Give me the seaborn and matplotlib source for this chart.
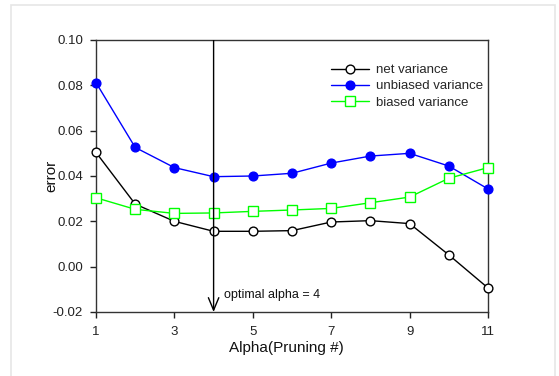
import numpy as np
import pandas as pd
import matplotlib
matplotlib.use("Agg")
import matplotlib.pyplot as plt
from matplotlib.patches import Rectangle, FancyArrowPatch
import seaborn as sns

# pruning steps and the three variance curves
alpha = [1, 2, 3, 4, 5, 6, 7, 8, 9, 10, 11]
net_variance = [0.0504, 0.0276, 0.0200, 0.0156, 0.0156, 0.0159, 0.0197, 0.0203, 0.0190, 0.0052, -0.0094]
unbiased_variance = [0.0812, 0.0526, 0.0437, 0.0397, 0.0400, 0.0412, 0.0457, 0.0488, 0.0500, 0.0444, 0.0343]
biased_variance = [0.0304, 0.0253, 0.0235, 0.0237, 0.0244, 0.0250, 0.0257, 0.0282, 0.0307, 0.0390, 0.0437]
x_ticks = [1, 3, 5, 7, 9, 11]
y_ticks = [-0.02, 0.00, 0.02, 0.04, 0.06, 0.08, 0.10]
optimal_alpha = 4

sns.set_style("ticks")
plt.rcParams["font.family"] = ["Liberation Sans", "DejaVu Sans"]
plt.rcParams["axes.unicode_minus"] = False

fig = plt.figure(figsize=(5.59, 3.76), dpi=100)
ax = fig.add_axes([96 / 559, 64 / 376, 392 / 559, 272 / 376])

df = pd.DataFrame({
    "alpha": alpha,
    "net variance": net_variance,
    "unbiased variance": unbiased_variance,
    "biased variance": biased_variance,
})

styles = [
    ("net variance", "black", "o", "white", 6.3),
    ("unbiased variance", "#0000ff", "o", "#0000ff", 6.3),
    ("biased variance", "#00ff00", "s", "white", 6.6),
]
for name, col, mk, face, ms in styles:
    sns.lineplot(data=df, x="alpha", y=name, ax=ax, color=col, marker=mk,
                 markerfacecolor=face, markeredgecolor=col, markersize=ms,
                 markeredgewidth=1.0, linewidth=1.0, label=name,
                 clip_on=False, zorder=3)

ax.set_xlim(1, 11)
ax.set_ylim(-0.02, 0.10)
ax.set_xticks(x_ticks)
ax.set_yticks(y_ticks)
ax.set_yticklabels([f"{v:.2f}" for v in y_ticks])
ax.tick_params(axis="both", direction="out", length=4.3, width=1,
               labelsize=9.5, colors="#222222")
ax.tick_params(axis="x", pad=6)
ax.tick_params(axis="y", pad=5)

for side in ["left", "top", "bottom", "right"]:
    ax.spines[side].set_visible(True)
    ax.spines[side].set_linewidth(1.0)
    ax.spines[side].set_color("#333333")

ax.set_xlabel("Alpha(Pruning #)", fontsize=11, color="#111111")
ax.set_ylabel("error", fontsize=11, color="#111111", va="center")
ax.xaxis.set_label_coords(0.485, -0.107)
ax.yaxis.set_label_coords(-0.115, 0.5)

# marker for the chosen pruning step
arrow = FancyArrowPatch((optimal_alpha, 0.10), (optimal_alpha, -0.02),
                        arrowstyle="->,head_length=0.6,head_width=0.25",
                        mutation_scale=15, color="black", linewidth=1.0,
                        shrinkA=0, shrinkB=0, zorder=5)
ax.add_patch(arrow)
ax.text(optimal_alpha + 0.265, -0.0124, f"optimal alpha = {optimal_alpha}",
        ha="left", va="center", fontsize=9, color="#111111")

leg = ax.legend(loc="upper left", bbox_to_anchor=(0.5995, 0.912),
                frameon=False, fontsize=9.5, handlelength=2.85,
                handletextpad=0.55, labelspacing=0.3, borderpad=0,
                borderaxespad=0)

fig.patches.append(Rectangle((11 / 559, -0.02), 544 / 559, 1 - 5 / 376 + 0.02,
                             transform=fig.transFigure, fill=False,
                             edgecolor="#e6e6e6", linewidth=1.2))

fig.savefig("out.png", dpi=100)
